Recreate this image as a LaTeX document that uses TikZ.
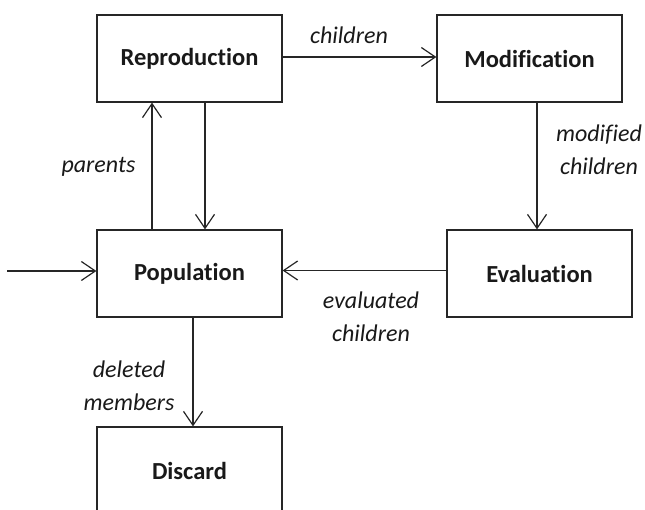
\documentclass[tikz,border=0pt]{standalone}
\usepackage{fontspec}
\setmainfont{Carlito}[Ligatures={NoCommon,NoRare,NoDiscretionary}]
\usetikzlibrary{arrows.meta}
\tikzset{
  box/.style={draw=black!85, line width=1.2pt, minimum width=185pt, minimum height=87pt,
    inner sep=0pt, font=\fontsize{24.5}{29}\selectfont\bfseries, text=black!90},
  lbl/.style={font=\fontsize{24}{33}\selectfont\itshape, text=black!90, align=center, inner sep=0pt},
  arr/.style={draw=black!85, line width=1.2pt, -{Straight Barb[length=14pt,width=19pt]}}
}
\begin{document}
\begin{tikzpicture}[x=1pt,y=-1pt]
\useasboundingbox (0,0) rectangle (645,510);
\node[box] (rep) at (189.5,58.5) {Reproduction};
\node[box] (mod) at (529.5,58.5) {Modification};
\node[box] (pop) at (189.5,273.5) {Population};
\node[box] (eva) at (539.5,273.5) {Evaluation};
\node[box] (dis) at (189.5,470.5) {Discard};
\coordinate (in) at (7,271);

\draw[arr] ([yshift=1.5pt]rep.east) -- ([yshift=1.5pt]mod.west);
\draw[arr] ([xshift=-37.5pt]pop.north) -- ([xshift=-37.5pt]rep.south);
\draw[arr] ([xshift=15.5pt]rep.south) -- ([xshift=15.5pt]pop.north);
\draw[arr] ([xshift=7.5pt]mod.south) -- ([xshift=7.5pt]mod.south |- eva.north);
\draw[arr] ([yshift=3pt]eva.west) -- ([yshift=3pt]pop.east);
\draw[arr] (in) -- (in -| pop.west);
\draw[arr] ([xshift=3.5pt]pop.south) -- ([xshift=3.5pt]dis.north);

\node[lbl] (l1) at (349,35) {children};
\node[lbl] (l2) at (98.5,167) {parents};
\node[lbl] (l3) at (599,150) {modified\\children};
\node[lbl] (l4) at (371,316.5) {evaluated\\children};
\node[lbl] (l5) at (129,385.5) {deleted\\members};
\end{tikzpicture}
\end{document}
